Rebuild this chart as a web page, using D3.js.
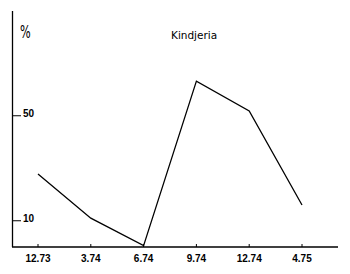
<!DOCTYPE html>
<html><head><meta charset="utf-8">
<script src="https://cdn.jsdelivr.net/npm/d3@7"></script>
<style>body{margin:0;background:#fff}svg{display:block}</style>
</head><body>
<script>
const categories = ["12.73","3.74","6.74","9.74","12.74","4.75"];
const values = [27.8, 11, 0.5, 63.2, 51.8, 16];
const yTicks = [10, 50];
const title = "Kindjeria";
const yLabel = "%";

const W = 350, H = 274;
const svg = d3.select("body").append("svg").attr("width", W).attr("height", H);
const x = d3.scalePoint().domain(categories).range([38, 302]);
const y = d3.scaleLinear().domain([0, 40]).range([247, 142]);

// axes lines
svg.append("line").attr("x1", 12.5).attr("x2", 12.5).attr("y1", 11).attr("y2", y(0))
  .attr("stroke", "#000").attr("stroke-width", 1.3);
svg.append("line").attr("x1", 12).attr("x2", 338).attr("y1", y(0)).attr("y2", y(0))
  .attr("stroke", "#000").attr("stroke-width", 1.3);

// y ticks
const yt = svg.append("g");
yt.selectAll("line").data(yTicks).join("line")
  .attr("x1", 13).attr("x2", 21).attr("y1", d => y(d)).attr("y2", d => y(d))
  .attr("stroke", "#000").attr("stroke-width", 1);
yt.selectAll("text").data(yTicks).join("text")
  .attr("x", 23).attr("y", d => y(d)).attr("dy", "0.1em")
  .attr("font-family", "Liberation Sans, Arial, sans-serif").attr("font-weight", "bold")
  .attr("font-size", 10).text(d => d);

// x ticks
const xt = svg.append("g");
xt.selectAll("line").data(categories).join("line")
  .attr("x1", d => x(d)).attr("x2", d => x(d)).attr("y1", y(0) - 3).attr("y2", y(0))
  .attr("stroke", "#000").attr("stroke-width", 1);
xt.selectAll("text").data(categories).join("text")
  .attr("x", d => x(d)).attr("y", 262).attr("text-anchor", "middle")
  .attr("font-family", "Liberation Sans, Arial, sans-serif").attr("font-weight", "bold")
  .attr("font-size", 10).text(d => d);

// line
const line = d3.line().x((d, i) => x(categories[i])).y(d => y(d));
svg.append("path").datum(values).attr("d", line)
  .attr("fill", "none").attr("stroke", "#000").attr("stroke-width", 1.3);

// labels
svg.append("text").attr("transform", "translate(20,38) scale(0.75,1.15)")
  .attr("font-family", "DejaVu Sans, sans-serif")
  .attr("font-size", 15).text(yLabel);
svg.append("text").attr("x", 171).attr("y", 39).attr("font-family", "DejaVu Sans, sans-serif")
  .attr("font-size", 10.5).text(title);
</script>
</body></html>
